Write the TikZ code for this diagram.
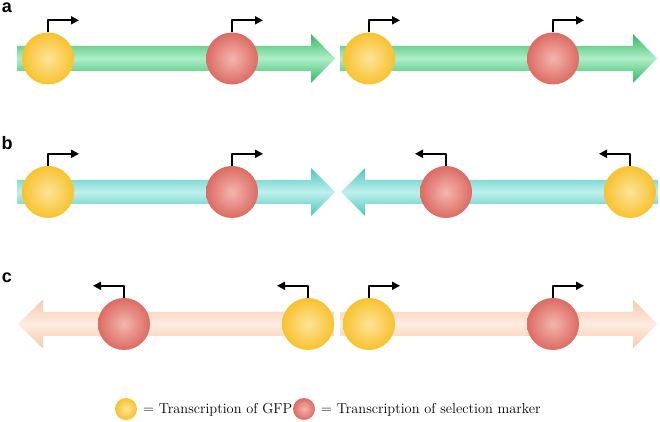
\documentclass[tikz,border=0pt]{standalone}
\usepackage{fontspec}
\usepackage{tikz}
\usetikzlibrary{arrows.meta,calc}
\newfontfamily\panelfont{Liberation Sans}

\definecolor{gfpyel}{HTML}{F8C22E}
\definecolor{gfpyellt}{HTML}{FDE49A}
\definecolor{selred}{HTML}{DC6B63}
\definecolor{selredlt}{HTML}{F3B6AE}
\definecolor{bargreen}{HTML}{30B864}
\definecolor{bargreenlt}{HTML}{B0EEC8}
\definecolor{barteal}{HTML}{4CC6BC}
\definecolor{bartealt}{HTML}{BEF0EC}
\definecolor{barpeach}{HTML}{F7C8AC}
\definecolor{barpeachlt}{HTML}{FEEBE0}

\tikzset{
  gfpball/.style={circle,minimum size=52pt,inner sep=0pt,inner color=gfpyellt,outer color=gfpyel},
  selball/.style={circle,minimum size=52pt,inner sep=0pt,inner color=selredlt,outer color=selred},
  legball/.style={minimum size=22pt},
  prom/.style={line width=1.8pt,-{Triangle[length=8pt,width=8pt]}},
  greenbar/.style={top color=bargreen,bottom color=bargreen,middle color=bargreenlt},
  tealbar/.style={top color=barteal,bottom color=barteal,middle color=bartealt},
  peachbar/.style={top color=barpeach,bottom color=barpeach,middle color=barpeachlt},
  panel/.style={font=\panelfont\bfseries\fontsize{18}{18}\selectfont,inner sep=0pt},
  legtext/.style={font=\fontsize{14.4}{15}\selectfont,inner sep=0pt,anchor=west}
}

\begin{document}
\begin{tikzpicture}[x=1pt,y=1pt,line join=round]
  \useasboundingbox (0,0) rectangle (660,422);

  % a: both cassettes forward
  \shade[greenbar] (17,351) -- (311,351) -- (311,339) -- (335,363.5) -- (311,388) -- (311,376) -- (17,376) -- cycle;
  \shade[greenbar] (340,351) -- (633,351) -- (633,339) -- (657,363.5) -- (633,388) -- (633,376) -- (340,376) -- cycle;
  \node[gfpball] (a1) at (48,363.5) {};
  \node[selball] (a2) at (232,363.5) {};
  \node[gfpball] (a3) at (369,363.5) {};
  \node[selball] (a4) at (553,363.5) {};
  \draw[prom] (a1.north) -- ++(0,12) -- ++(31,0);
  \draw[prom] (a2.north) -- ++(0,12) -- ++(31,0);
  \draw[prom] (a3.north) -- ++(0,12) -- ++(31,0);
  \draw[prom] (a4.north) -- ++(0,12) -- ++(31,0);
  \node[panel] (la) at (7,414) {a};

  % b: head to head
  \shade[tealbar] (17,218) -- (311,218) -- (311,206) -- (335,230) -- (311,254) -- (311,242) -- (17,242) -- cycle;
  \shade[tealbar] (658,218) -- (365,218) -- (365,206) -- (341,230) -- (365,254) -- (365,242) -- (658,242) -- cycle;
  \node[gfpball] (b1) at (48,230) {};
  \node[selball] (b2) at (232,230) {};
  \node[selball] (b3) at (446,230) {};
  \node[gfpball] (b4) at (630,230) {};
  \draw[prom] (b1.north) -- ++(0,12) -- ++(31,0);
  \draw[prom] (b2.north) -- ++(0,12) -- ++(31,0);
  \draw[prom] (b3.north) -- ++(0,12) -- ++(-31,0);
  \draw[prom] (b4.north) -- ++(0,12) -- ++(-31,0);
  \node[panel] (lb) at (7,279) {b};

  % c: tail to tail
  \shade[peachbar] (334,86) -- (43,86) -- (43,73.5) -- (18,98) -- (43,122.5) -- (43,110) -- (334,110) -- cycle;
  \shade[peachbar] (340,86) -- (633,86) -- (633,73.5) -- (657,98) -- (633,122.5) -- (633,110) -- (340,110) -- cycle;
  \node[selball] (c1) at (124,98) {};
  \node[gfpball] (c2) at (308,98) {};
  \node[gfpball] (c3) at (369,98) {};
  \node[selball] (c4) at (553,98) {};
  \draw[prom] (c1.north) -- ++(0,12) -- ++(-31,0);
  \draw[prom] (c2.north) -- ++(0,12) -- ++(-31,0);
  \draw[prom] (c3.north) -- ++(0,12) -- ++(31,0);
  \draw[prom] (c4.north) -- ++(0,12) -- ++(31,0);
  \node[panel] (lc) at (7,144) {c};

  % legend
  \node[gfpball,legball] (kg) at (126,13) {};
  \node[legtext] (kgt) at (143,12) {= Transcription of GFP};
  \node[selball,legball] (ks) at (304,13) {};
  \node[legtext] (kst) at (321,12) {= Transcription of selection marker};
\end{tikzpicture}
\end{document}
